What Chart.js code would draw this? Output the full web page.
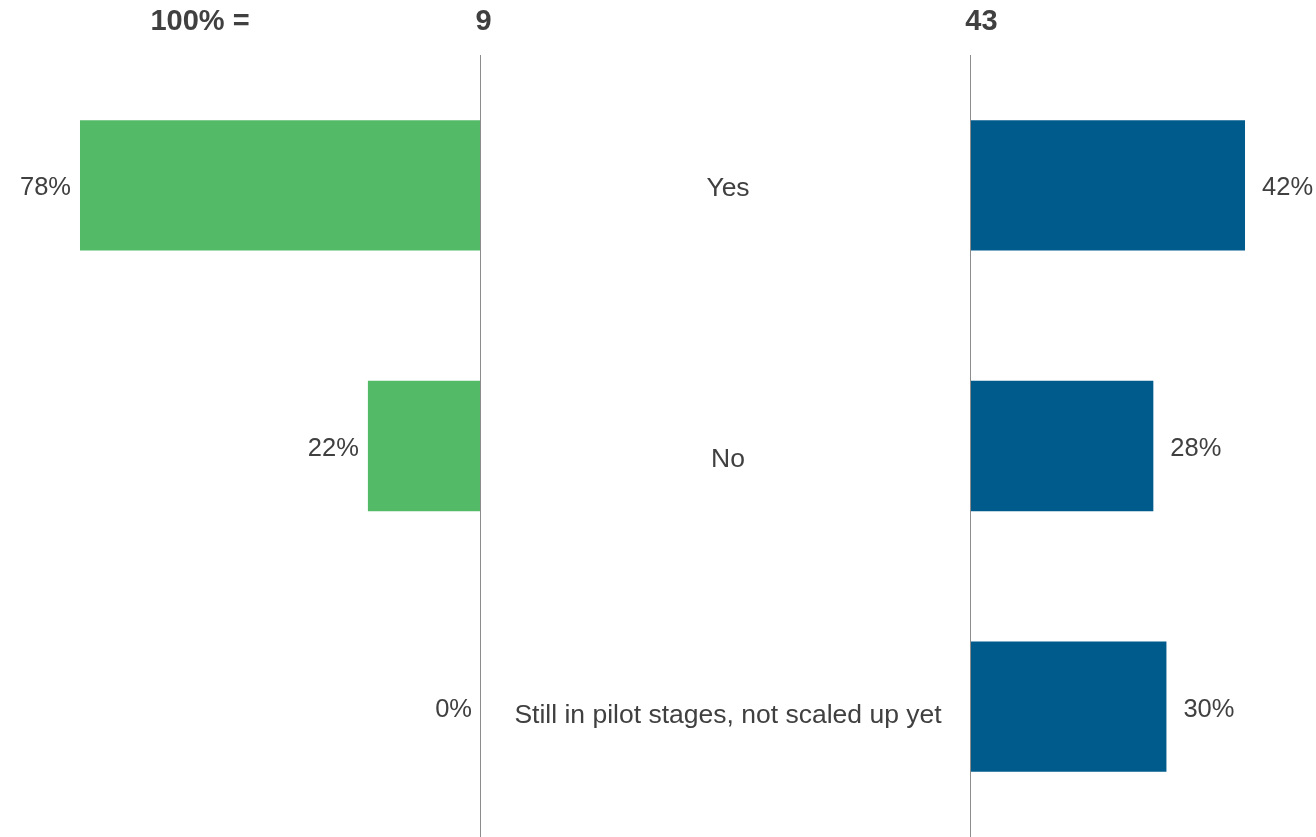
<!DOCTYPE html>
<html>
<head>
<meta charset="utf-8">
<script src="https://cdn.jsdelivr.net/npm/chart.js@4/dist/chart.umd.min.js"></script>
<style>
  html, body { margin: 0; padding: 0; background: #ffffff; }
  #wrap { position: relative; width: 1316px; height: 837px; overflow: hidden; background: #ffffff; }
  .panel { position: absolute; top: 0; height: 837px; }
  #leftBox { left: 0; width: 500px; }
  #rightBox { left: 481px; width: 835px; }
</style>
</head>
<body>
<div id="wrap">
  <div class="panel" id="rightBox"><canvas id="rightChart"></canvas></div>
  <div class="panel" id="leftBox"><canvas id="leftChart"></canvas></div>
</div>
<script>
// Answer options shown between the two panels
const categories = ['Yes', 'No', 'Still in pilot stages, not scaled up yet'];
// Share of respondents (%) in each group
const leftValues = [78, 22, 0];
const rightValues = [42, 28, 30];
// Base sizes printed above each panel
const baseLabel = '100% =';
const sampleSizes = [9, 43];

// Upper end of each value axis
const LEFT_MAX = 93.56;
const RIGHT_MAX = 52.84;

const GREEN = '#53BA67';
const BLUE = '#005B8D';
const TEXT = '#404040';
const AXIS = '#8C8C8C';
const FONT = '"Liberation Sans", Arial, Helvetica, sans-serif';

// Draws the zero line, value labels and headers for one panel
const panelDecor = {
  id: 'panelDecor',
  afterDatasetsDraw(chart, args, opts) {
    const ctx = chart.ctx;
    const area = chart.chartArea;
    const xs = chart.scales.x;
    const ys = chart.scales.y;
    const zeroX = Math.round(xs.getPixelForValue(0)) + (opts.side === 'left' ? -0.5 : 0.5);

    ctx.save();
    // zero line
    ctx.strokeStyle = AXIS;
    ctx.lineWidth = 1;
    ctx.beginPath();
    ctx.moveTo(zeroX, area.top);
    ctx.lineTo(zeroX, chart.height);
    ctx.stroke();

    // value labels next to the bar ends
    ctx.fillStyle = TEXT;
    ctx.font = '25.5px ' + FONT;
    ctx.textBaseline = 'middle';
    const meta = chart.getDatasetMeta(0);
    const values = chart.data.datasets[0].data;
    meta.data.forEach((bar, i) => {
      const label = values[i] + '%';
      if (opts.side === 'left') {
        ctx.textAlign = 'right';
        ctx.fillText(label, bar.x - 9, bar.y + 3);
      } else {
        ctx.textAlign = 'left';
        ctx.fillText(label, bar.x + 17, bar.y + 3);
      }
    });

    // header row
    ctx.font = 'bold 29px ' + FONT;
    ctx.textAlign = 'center';
    ctx.fillStyle = TEXT;
    if (opts.side === 'left') {
      ctx.fillText(baseLabel, 200, 22);
      ctx.fillText(String(sampleSizes[0]), zeroX + 3, 22);
    } else {
      ctx.fillText(String(sampleSizes[1]), zeroX + 11, 22);
      // category names centred in the gap between the panels
      ctx.font = '26.5px ' + FONT;
      const midX = area.left - 242;
      chart.data.labels.forEach((name, i) => {
        const y = ys.getPixelForValue(i) + (opts.labelShift[i] || 0);
        ctx.fillText(name, midX, y);
      });
    }
    ctx.restore();
  }
};

function makePanel(canvasId, values, color, max, side, padding) {
  return new Chart(document.getElementById(canvasId), {
    type: 'bar',
    data: {
      labels: categories,
      datasets: [{
        data: values,
        backgroundColor: color,
        borderWidth: 0,
        barPercentage: 0.5,
        categoryPercentage: 1
      }]
    },
    options: {
      indexAxis: 'y',
      responsive: true,
      maintainAspectRatio: false,
      animation: false,
      layout: { padding: padding },
      scales: {
        x: { display: false, min: 0, max: max, reverse: side === 'left' },
        y: { display: false }
      },
      plugins: {
        legend: { display: false },
        tooltip: { enabled: false },
        panelDecor: { side: side, labelShift: [3, 14, 9] }
      }
    },
    plugins: [panelDecor]
  });
}

makePanel('leftChart', leftValues, GREEN, LEFT_MAX, 'left', { top: 55, right: 19, left: 0, bottom: 0 });
makePanel('rightChart', rightValues, BLUE, RIGHT_MAX, 'right', { top: 55, right: 0, left: 489, bottom: 0 });
</script>
</body>
</html>
